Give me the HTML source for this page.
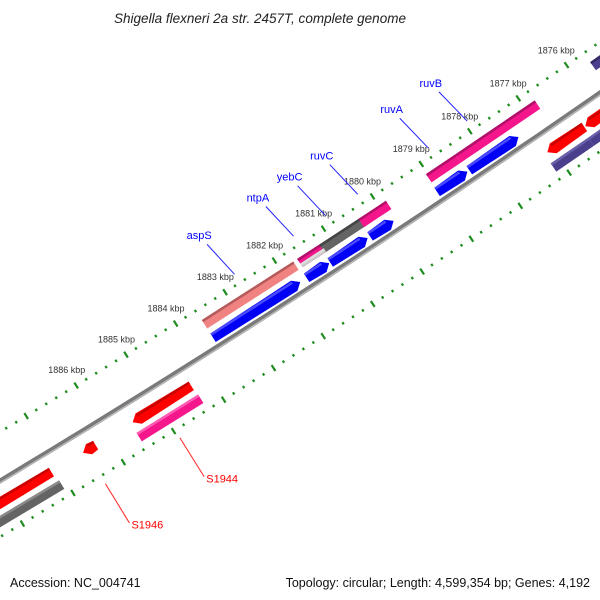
<!DOCTYPE html>
<html><head><meta charset="utf-8"><style>
html,body{margin:0;padding:0;background:#fff;}
svg{display:block;font-family:"Liberation Sans","DejaVu Sans",sans-serif;}
</style></head><body>
<svg id="map" width="600" height="600" viewBox="0 0 600 600" xmlns="http://www.w3.org/2000/svg">
<text x="260" y="23" text-anchor="middle" font-size="13.5" font-style="italic" fill="#222" textLength="292" lengthAdjust="spacingAndGlyphs">Shigella flexneri 2a str. 2457T, complete genome</text>
<g id="layer"></g>
<text x="10" y="587" font-size="12.5" fill="#111">Accession: NC_004741</text>
<text x="590" y="587" text-anchor="end" font-size="12.5" fill="#111">Topology: circular; Length: 4,599,354 bp; Genes: 4,192</text>
</svg>
<script>
// ---- data (kbp) ----
const tickLabelsKbp = [1876,1877,1878,1879,1880,1881,1882,1883,1884,1885,1886];
const upperStart = [1883.59,1881.66,1881.21,1880.41,1879.03,1878.43,1875.64];
const upperEnd   = [1881.74,1881.18,1880.37,1879.85,1878.43,1876.79,1874.3];
const upperColor = ['#f08282','#f5168c','#646464','#f5168c','#f5168c','#f5168c','#4a3f8c'];
const upperShade = ['#b45a5a','#b0106a','#444444','#b0106a','#b0106a','#b0106a','#332a66'];
const overlayStart = [1881.66];
const overlayEnd = [1881.18];
const blueStart = [1883.59,1881.70,1881.22,1880.41,1879.04,1878.38,1875.6];
const blueEnd   = [1881.83,1881.24,1880.46,1879.93,1878.42,1877.37,1874.3];
const redLo = [1874.3,1876.35,1884.34,1886.25,1887.13];
const redHi = [1876.33,1877.11,1885.51,1886.5,1889.5];
const lowerStart = [1874.3,1876.4,1884.32,1887.09];
const lowerEnd   = [1876.4,1877.17,1885.55,1889.5];
const lowerColor = ['#4a3f8c','#4a3f8c','#f5168c','#646464'];
const lowerShade = ['#6a60aa','#6a60aa','#ff5ab4','#8a8a8a'];
const geneNames = ['aspS','ntpA','yebC','ruvC','ruvA','ruvB'];
const geneKbp = [1882.70,1881.50,1880.85,1880.19,1878.75,1877.94];
const siteNames = ['S1944','S1946'];
const siteKbp = [1884.97,1886.45];

// ---- geometry ----
const A=[0,481],B=[300,294],C=[600,93];
function circum(a,b,c){
  const d=2*(a[0]*(b[1]-c[1])+b[0]*(c[1]-a[1])+c[0]*(a[1]-b[1]));
  const a2=a[0]*a[0]+a[1]*a[1],b2=b[0]*b[0]+b[1]*b[1],c2=c[0]*c[0]+c[1]*c[1];
  return [(a2*(b[1]-c[1])+b2*(c[1]-a[1])+c2*(a[1]-b[1]))/d,(a2*(c[0]-b[0])+b2*(a[0]-c[0])+c2*(b[0]-a[0]))/d];
}
const cen=circum(A,B,C);
const R=Math.hypot(A[0]-cen[0],A[1]-cen[1]);
const phiA=Math.atan2(A[1]-cen[1],A[0]-cen[0]);
const phiC=Math.atan2(C[1]-cen[1],C[0]-cen[0]);
const dir=Math.sign(phiC-phiA);
// positive r = up-left
const side=((cen[0]-B[0])*(-0.53)+(cen[1]-B[1])*(-0.85))>0?-1:1;
function P(s,r){const ph=phiA+dir*s/R;const rr=R+side*r;return [cen[0]+rr*Math.cos(ph),cen[1]+rr*Math.sin(ph)];}
function proj(x,y){const ph=Math.atan2(y-cen[1],x-cen[0]);return {s:(ph-phiA)*dir*R,r:side*(Math.hypot(x-cen[0],y-cen[1])-R)};}
const s1883=proj(225,292).s, s1878=proj(469,130).s;
const ppk=(s1878-s1883)/5;
function S(kb){return s1883+(1883-kb)*ppk;}
function K(kb,r){return P(S(kb),r);}

const NS='http://www.w3.org/2000/svg';
const layer=document.getElementById('layer');
function el(tag,attrs){const e=document.createElementNS(NS,tag);for(const k in attrs)e.setAttribute(k,attrs[k]);layer.appendChild(e);return e;}
function pts(arr){return arr.map(p=>p[0].toFixed(1)+','+p[1].toFixed(1)).join(' ');}

// backbone
(function(){
  const a=[],b=[];
  for(let s=-80;s<=900;s+=20){a.push(P(s,0));b.push(P(s,-1.6));}
  const l1=el('polyline',{points:pts(a),fill:'none',stroke:'#7a7a7a','stroke-width':5});
  
  
  const l2=el('polyline',{points:pts(b),fill:'none',stroke:'#b8b8b8','stroke-width':1.5});
  
  
})();

// ticks
[42,-48].forEach(function(rr){
  for(let i=0;i<=80;i++){
    const kb=1873.6+i*0.2;
    const major=Math.abs(kb-Math.round(kb))<0.01;
    const h=major?3.5:1.3;
    const p1=K(kb,rr-h),p2=K(kb,rr+h);
    const t=el('line',{x1:p1[0],y1:p1[1],x2:p2[0],y2:p2[1],stroke:'#1e8c1e','stroke-width':2.2});
    
    
  }
});
tickLabelsKbp.forEach(function(kb){
  const p=K(kb,60);
  const t=el('text',{x:p[0],y:p[1]+3,'text-anchor':'middle','font-size':9,fill:'#333'});
  t.textContent=kb+' kbp';
  
  
});

function bar(k1,k2,r1,r2,fill,shade,arrow,name){
  // k1 -> k2; arrow at k2 end if set
  const sA=S(k1),sB=S(k2);
  const sg=Math.sign(sB-sA);
  const head=arrow?Math.min(7,Math.abs(sB-sA)*0.6):0;
  let poly;
  if(arrow){
    const sm=sB-sg*head, rm=(r1+r2)/2;
    poly=[P(sA,r1),P(sm,r1-1),P(sB,rm),P(sm,r2+1),P(sA,r2)];
  } else {
    poly=[P(sA,r1),P(sB,r1),P(sB,r2),P(sA,r2)];
  }
  const g=el('polygon',{points:pts(poly),fill:fill});
  
  
  if(shade){
    const sE=arrow?sB-sg*head:sB;
    const st=el('polygon',{points:pts([P(sA,r2-2.5),P(sE,r2-2.5),P(sE,r2),P(sA,r2)]),fill:shade});
    
    
  }
}
for(let i=0;i<upperStart.length;i++) bar(upperStart[i],upperEnd[i],21,31,upperColor[i],upperShade[i],false,'forward-feature');
for(let i=0;i<overlayStart.length;i++) bar(overlayStart[i],overlayEnd[i],21,25.5,'#c8c8c8','#dddddd',false,'overlay-feature');
for(let i=0;i<blueStart.length;i++) bar(blueStart[i],blueEnd[i],5,15,'#0000f5','#4a4aff',true,'gene-arrow');
for(let i=0;i<redLo.length;i++) bar(redLo[i],redHi[i],-24,-14,'#ff0000','#c80000',true,'reverse-gene-arrow');
for(let i=0;i<lowerStart.length;i++) bar(lowerStart[i],lowerEnd[i],-40,-30,lowerColor[i],lowerShade[i],false,'reverse-feature');

// gene labels
geneNames.forEach(function(n,i){
  const kb=geneKbp[i];
  const a=K(kb,52),b=K(kb+0.12,92),t=K(kb+0.15,104);
  const l=el('line',{x1:a[0],y1:a[1],x2:b[0],y2:b[1],stroke:'#2222ff','stroke-width':1});
  
  
  const tx=el('text',{x:t[0],y:t[1]+4,'text-anchor':'middle','font-size':11,fill:'#0000ff'});
  tx.textContent=n;
  
  
});
siteNames.forEach(function(n,i){
  const kb=siteKbp[i];
  const a=K(kb,-57),b=K(kb,-103),t=K(kb,-105);
  const l=el('line',{x1:a[0],y1:a[1],x2:b[0],y2:b[1],stroke:'#ff2222','stroke-width':1});
  
  
  const tx=el('text',{x:t[0]+1,y:t[1]+4,'text-anchor':'start','font-size':11,fill:'#ff0000'});
  tx.textContent=n;
  
  
});
</script>
</body></html>
